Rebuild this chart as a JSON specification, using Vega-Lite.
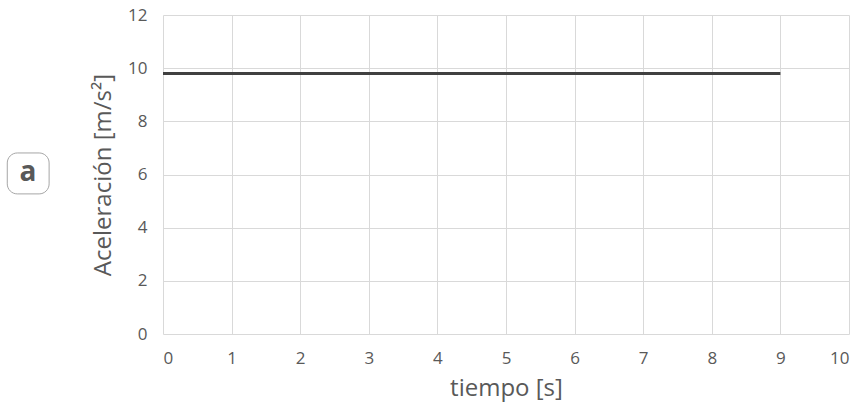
{
  "$schema": "https://vega.github.io/schema/vega-lite/v6.json",
  "autosize": "none",
  "width": 686,
  "height": 319,
  "padding": {"left": 163, "top": 15, "right": 14, "bottom": 78},
  "background": "white",
  "config": {
    "view": {"stroke": null},
    "font": "Open Sans",
    "axis": {
      "gridColor": "#d9d9d9",
      "gridWidth": 1,
      "domain": false,
      "ticks": false,
      "labelColor": "#595959",
      "labelFont": "Open Sans",
      "labelFontSize": 17,
      "labelOverlap": false,
      "titleColor": "#595959",
      "titleFont": "Open Sans",
      "titleFontSize": 24,
      "titleFontWeight": "normal"
    }
  },
  "datasets": {
    "accel": [
      {"t": 0, "a": 9.8},
      {"t": 9, "a": 9.8}
    ],
    "tag": [
      {"label": "a", "t": -1.97, "a": 6, "t0": -2.27, "t1": -1.66, "a0": 5.27, "a1": 6.81}
    ]
  },
  "encoding": {
    "x": {
      "field": "t",
      "type": "quantitative",
      "title": "tiempo [s]",
      "scale": {"domain": [0, 10], "nice": false},
      "axis": {"values": [0, 1, 2, 3, 4, 5, 6, 7, 8, 9, 10], "labelPadding": 16, "titlePadding": 10}
    },
    "y": {
      "field": "a",
      "type": "quantitative",
      "title": "Aceleración [m/s²]",
      "scale": {"domain": [0, 12], "nice": false},
      "axis": {"values": [0, 2, 4, 6, 8, 10, 12], "labelPadding": 16, "titlePadding": 12}
    }
  },
  "layer": [
    {
      "data": {"name": "accel"},
      "mark": {"type": "line", "color": "#404040", "strokeWidth": 3}
    },
    {
      "data": {"name": "tag"},
      "mark": {"type": "rect", "clip": false, "fill": "white", "stroke": "#a6a6a6", "strokeWidth": 1, "cornerRadius": 10},
      "encoding": {
        "x": {"field": "t0", "type": "quantitative"},
        "x2": {"field": "t1"},
        "y": {"field": "a0", "type": "quantitative"},
        "y2": {"field": "a1"}
      }
    },
    {
      "data": {"name": "tag"},
      "mark": {"type": "text", "clip": false, "font": "Open Sans", "fontSize": 28, "fontWeight": "bold", "color": "#595959", "baseline": "middle", "align": "center", "dy": -2},
      "encoding": {
        "text": {"field": "label"}
      }
    }
  ]
}
